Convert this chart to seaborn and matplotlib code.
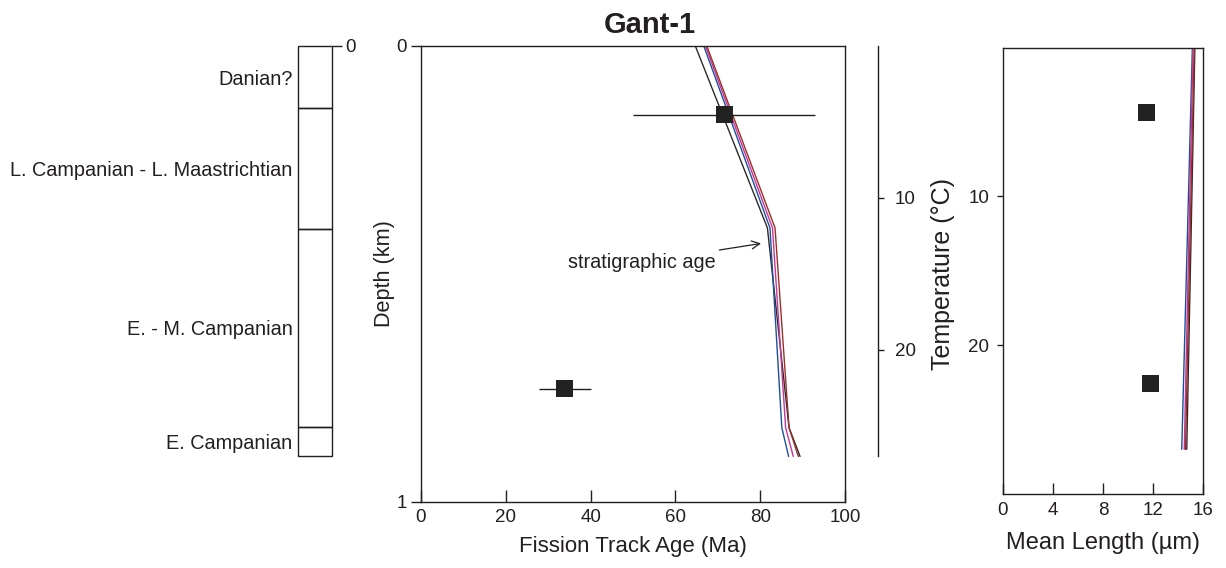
import numpy as np
import pandas as pd
import matplotlib
matplotlib.use("Agg")
import matplotlib.pyplot as plt
import seaborn as sns

# ---------------- data ----------------
strat_units = ["Danian?", "L. Campanian - L. Maastrichtian", "E. - M. Campanian", "E. Campanian"]
strat_top = [0.0, 0.137, 0.401, 0.835]
strat_base = [0.137, 0.401, 0.835, 0.900]

model_depth = [0.0, 0.399, 0.837, 0.900]
age_black = [64.7, 81.7, 86.8, 89.4]
age_blue = [66.7, 82.3, 85.1, 86.7]
age_magenta = [67.1, 82.9, 86.0, 87.8]
age_red = [67.4, 83.5, 86.8, 89.0]

model_temp = [0.0, 27.0]
len_black = [15.35, 14.7]
len_blue = [15.15, 14.3]
len_magenta = [15.2, 14.5]
len_red = [15.3, 14.6]

sample_depth = [0.151, 0.752]
sample_age = [71.5, 33.9]
sample_age_err = [21.4, 6.1]
sample_temp = [4.4, 22.6]
sample_length = [11.5, 11.8]

depth_ticks = [0, 1]
age_ticks = [0, 20, 40, 60, 80, 100]
temp_ticks = [10, 20]
temp_axis_range = [0, 27]
length_ticks = [0, 4, 8, 12, 16]
strat_ticks = [0]

run_names = ["run 1", "run 2", "run 3", "run 4"]
run_colors = {"run 1": "#2a2a2a", "run 2": "#1f4e9c", "run 3": "#c2379a", "run 4": "#9b2f2a"}

# ---------------- style ----------------
sns.set_theme(style="ticks")
plt.rcParams['font.family'] = ['Liberation Sans', 'DejaVu Sans']
TXT = "#231f20"
plt.rcParams.update({
    "axes.edgecolor": TXT, "axes.linewidth": 1.0,
    "xtick.color": TXT, "ytick.color": TXT,
    "xtick.labelcolor": TXT, "ytick.labelcolor": TXT,
    "text.color": TXT, "axes.labelcolor": TXT,
})

W, H = 1226, 568
fig = plt.figure(figsize=(W / 100, H / 100), dpi=100)

def rect(x0, y0, x1, y1):
    return [x0 / W, 1 - y1 / H, (x1 - x0) / W, (y1 - y0) / H]

TICK_FS = 13.5
TXT_FS = 14.3

# ---------------- main panel ----------------
ax = fig.add_axes(rect(421, 46, 845, 502))
age_df = pd.DataFrame(
    [{"run": r, "depth": d, "age": a}
     for r, vals in zip(run_names, [age_black, age_blue, age_magenta, age_red])
     for d, a in zip(model_depth, vals)]
)
sns.lineplot(data=age_df, x="age", y="depth", hue="run", palette=run_colors,
             sort=False, estimator=None, legend=False, lw=1.0, ax=ax)
ax.errorbar(sample_age, sample_depth, xerr=sample_age_err, fmt="none",
            ecolor=TXT, elinewidth=1.0, capsize=0, zorder=4)
sns.scatterplot(x=sample_age, y=sample_depth, marker="s", s=150, color="#222222",
                edgecolor="none", ax=ax, zorder=5, legend=False)
ax.set_xlim(0, 100)
ax.set_ylim(1, 0)
ax.set_xticks(age_ticks)
ax.set_yticks(depth_ticks)
ax.tick_params(axis="x", direction="in", length=8.5, width=1, pad=5, labelsize=TICK_FS)
ax.tick_params(axis="y", direction="out", length=7, width=1, pad=3, labelsize=TICK_FS)
ax.set_xlabel("Fission Track Age (Ma)", fontsize=16, labelpad=7)
ax.set_ylabel("Depth (km)", fontsize=15.6, labelpad=1)
ax.annotate("stratigraphic age", xy=(80.2, 0.433), xytext=(69.6, 0.474),
            ha="right", va="center", fontsize=TXT_FS,
            arrowprops=dict(arrowstyle="->", color=TXT, lw=0.9, shrinkA=0, shrinkB=0))

axT = ax.twinx()
axT.set_ylim(30, 0)
axT.set_yticks(temp_ticks)
for side in ["top", "left", "bottom"]:
    axT.spines[side].set_visible(False)
axT.spines["right"].set_position(("outward", 23.8))
axT.spines["right"].set_bounds(*temp_axis_range)
axT.tick_params(axis="y", direction="out", length=4, width=1, pad=8, labelsize=TICK_FS)
axT.set_ylabel("Temperature (°C)", fontsize=18, labelpad=11)

# ---------------- strat column ----------------
axS = fig.add_axes(rect(297.7, 46, 331.7, 502))
heights = [b - t for t, b in zip(strat_top, strat_base)]
axS.bar(x=[0] * len(strat_top), height=heights, bottom=strat_top, width=1.0,
        fill=False, edgecolor=TXT, linewidth=1.0, clip_on=False)
axS.set_xlim(-0.5, 0.5)
axS.set_ylim(1, 0)
for s in axS.spines.values():
    s.set_visible(False)
axS.set_xticks([])
axS.yaxis.tick_right()
axS.set_yticks(strat_ticks)
axS.tick_params(axis="y", direction="out", length=7, width=1, pad=3, labelsize=TICK_FS)
for name, t, b in zip(strat_units, strat_top, strat_base):
    axS.annotate(name, xy=(0, (t + b) / 2), xycoords=("axes fraction", "data"),
                 xytext=(-3.6, 0), textcoords="offset points",
                 ha="right", va="center_baseline", fontsize=TXT_FS)

# ---------------- length panel ----------------
axR = fig.add_axes(rect(1003, 47.5, 1203, 494))
len_df = pd.DataFrame(
    [{"run": r, "temp": t, "length": l}
     for r, vals in zip(run_names, [len_black, len_blue, len_magenta, len_red])
     for t, l in zip(model_temp, vals)]
)
sns.lineplot(data=len_df, x="length", y="temp", hue="run", palette=run_colors,
             sort=False, estimator=None, legend=False, lw=1.0, ax=axR)
sns.scatterplot(x=sample_length, y=sample_temp, marker="s", s=150, color="#222222",
                edgecolor="none", ax=axR, zorder=5, legend=False)
axR.set_xlim(0, 16)
axR.set_ylim(30, 0)
axR.set_xticks(length_ticks)
axR.set_yticks(temp_ticks)
axR.tick_params(axis="x", direction="in", length=8, width=1, pad=6, labelsize=TICK_FS)
axR.tick_params(axis="y", direction="out", length=4, width=1, pad=6, labelsize=TICK_FS)
axR.set_xlabel("Mean Length (µm)", fontsize=17, labelpad=9)
axR.set_ylabel("")

fig.text(650 / W, 1 - 32.7 / H, "Gant-1", ha="center", va="baseline",
         fontsize=21, fontweight="bold")

fig.savefig("out.png", dpi=100)
